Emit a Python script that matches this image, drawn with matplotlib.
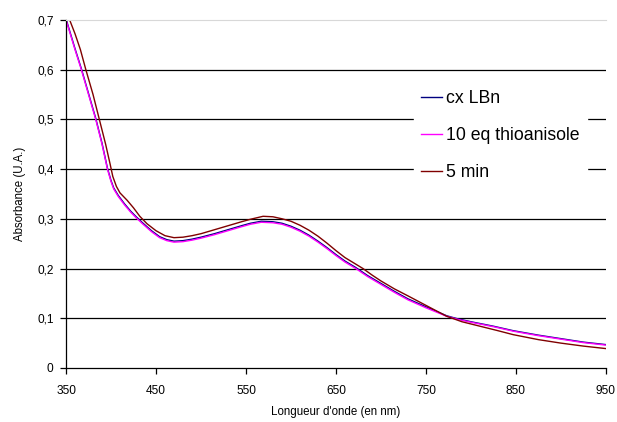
import matplotlib
matplotlib.use("Agg")
import matplotlib.pyplot as plt

plt.rcParams['font.family'] = ['Liberation Sans', 'DejaVu Sans']

# spectres
wl_ref = [350, 355, 360, 367, 375, 383, 390, 396, 400, 403, 408, 415, 422, 428, 435, 445, 454, 462,
          470, 480, 490, 500, 515, 530, 545, 555, 567, 580, 590, 600, 610, 620, 630, 640, 650, 660,
          672, 685, 700, 715, 730, 750, 773, 785, 800, 825, 847, 875, 900, 925, 950]
abs_cx = [0.702, 0.672, 0.642, 0.602, 0.552, 0.502, 0.452, 0.402, 0.377, 0.362, 0.347, 0.330, 0.315,
          0.304, 0.292, 0.276, 0.264, 0.258, 0.255, 0.256, 0.259, 0.263, 0.270, 0.278, 0.286, 0.291,
          0.295, 0.294, 0.291, 0.285, 0.277, 0.267, 0.255, 0.242, 0.228, 0.215, 0.202, 0.186, 0.170,
          0.154, 0.139, 0.123, 0.105, 0.099, 0.093, 0.084, 0.075, 0.066, 0.059, 0.052, 0.047]
abs_thio = [0.700, 0.670, 0.640, 0.600, 0.550, 0.500, 0.450, 0.400, 0.375, 0.360, 0.345, 0.328, 0.313,
            0.302, 0.290, 0.274, 0.262, 0.256, 0.253, 0.254, 0.257, 0.261, 0.268, 0.276, 0.284, 0.289,
            0.293, 0.292, 0.289, 0.283, 0.275, 0.265, 0.253, 0.240, 0.226, 0.213, 0.200, 0.184, 0.168,
            0.152, 0.137, 0.121, 0.104, 0.098, 0.092, 0.083, 0.074, 0.065, 0.058, 0.051, 0.046]

wl_5min = [350, 354, 360, 366, 372, 380, 387, 394, 399, 402, 406, 410, 418, 425, 432, 440, 450, 460,
           470, 480, 490, 500, 515, 530, 545, 555, 569, 580, 590, 600, 610, 620, 630, 640, 650, 660,
           680, 690, 700, 715, 730, 752, 773, 790, 810, 830, 847, 875, 900, 925, 950]
abs_5min = [0.728, 0.700, 0.672, 0.640, 0.600, 0.550, 0.500, 0.450, 0.410, 0.385, 0.365, 0.352, 0.337,
            0.322, 0.305, 0.290, 0.276, 0.266, 0.262, 0.263, 0.266, 0.270, 0.278, 0.286, 0.294, 0.299,
            0.305, 0.304, 0.300, 0.295, 0.287, 0.277, 0.265, 0.251, 0.236, 0.222, 0.200, 0.187, 0.175,
            0.159, 0.145, 0.124, 0.104, 0.093, 0.084, 0.075, 0.067, 0.057, 0.050, 0.044, 0.039]

labels = ['cx LBn', '10 eq thioanisole', '5 min']
couleurs = ['#000080', '#FF00FF', '#800000']

xticks = [350, 450, 550, 650, 750, 850, 950]
yticks = [0, 0.1, 0.2, 0.3, 0.4, 0.5, 0.6, 0.7]
ytick_labels = ['0', '0,1', '0,2', '0,3', '0,4', '0,5', '0,6', '0,7']

fig = plt.figure(figsize=(6.17, 4.22), dpi=100)
ax = fig.add_axes([0.107, 0.128, 0.875, 0.825])

for y in yticks[1:-1]:
    ax.axhline(y, color='black', lw=0.9, zorder=0)

ax.plot(wl_ref, abs_cx, color=couleurs[0], lw=1.0, label=labels[0])
ax.plot(wl_ref, abs_thio, color=couleurs[1], lw=1.0, label=labels[1])
ax.plot(wl_5min, abs_5min, color=couleurs[2], lw=1.0, label=labels[2])

ax.set_xlim(350, 950)
ax.set_ylim(0, 0.7)
ax.set_xticks(xticks)
ax.set_yticks(yticks)
ax.set_yticklabels(ytick_labels)
ax.tick_params(labelsize=8.6, length=4, width=0.9, color='black')
ax.tick_params(axis='x', pad=8)
ax.tick_params(axis='y', pad=5)

ax.spines['right'].set_visible(False)
ax.spines['top'].set_color('#d8d8d8')
ax.spines['left'].set_linewidth(0.9)
ax.spines['bottom'].set_linewidth(0.9)

ax.set_xlabel("Longueur d'onde (en nm)", fontsize=8.3, labelpad=7)
ax.set_ylabel("Absorbance (U.A.)", fontsize=8.3, labelpad=8)

leg = ax.legend(loc='upper left', bbox_to_anchor=(0.644, 0.819), borderaxespad=0,
                fontsize=12.7, frameon=True, fancybox=False, framealpha=1,
                edgecolor='white', facecolor='white', handlelength=1.2,
                handletextpad=0.25, labelspacing=1.15, borderpad=0.4)
for line in leg.get_lines():
    line.set_linewidth(1.0)

fig.savefig('out.png', dpi=100)
